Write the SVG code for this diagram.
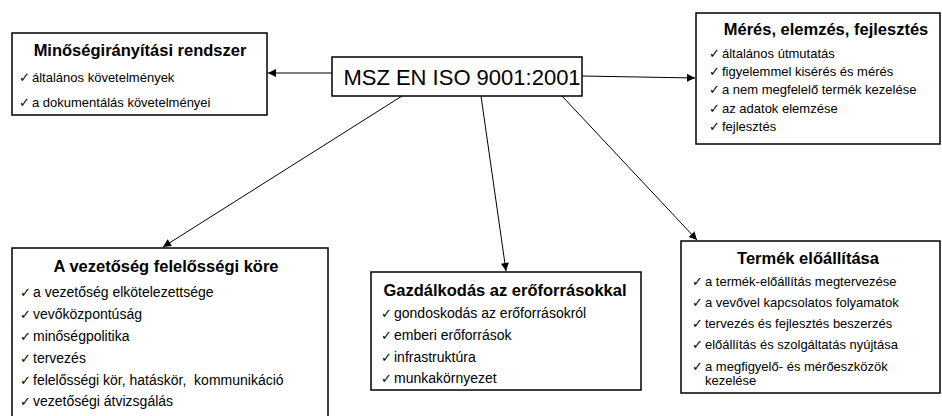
<svg xmlns="http://www.w3.org/2000/svg" width="942" height="416" viewBox="0 0 942 416">
  <style>
    .box { fill: #ffffff; stroke: #000000; stroke-width: 1.5; }
    .title { font-family: "Liberation Sans", Arial, sans-serif; font-size: 16.5px; font-weight: bold; text-anchor: middle; fill: #000; }
    .item { font-family: "Liberation Sans", Arial, sans-serif; font-size: 14px; fill: #000; }
    .sm { font-size: 13px; }
    .chk { font-family: "DejaVu Sans", sans-serif; font-size: 13px; fill: #000; }
    .main { font-family: "Liberation Sans", Arial, sans-serif; font-size: 22px; text-anchor: middle; fill: #000; }
    .conn { stroke: #000; stroke-width: 1; fill: none; marker-end: url(#arrow); }
  </style>
  <defs>
    <marker id="arrow" viewBox="0 0 10 10" refX="10" refY="5" markerWidth="9" markerHeight="8" markerUnits="userSpaceOnUse" orient="auto">
      <path d="M0,0 L10,5 L0,10 z" fill="#000"/>
    </marker>
  </defs>
  <rect width="942" height="416" fill="#ffffff"/>

  <g id="connectors">
    <line class="conn" x1="332" y1="73" x2="268" y2="73"/>
    <line class="conn" x1="582" y1="76" x2="695" y2="78"/>
    <line class="conn" x1="402" y1="96" x2="163" y2="247"/>
    <line class="conn" x1="481" y1="96" x2="506" y2="271"/>
    <line class="conn" x1="562" y1="96" x2="697" y2="240"/>
  </g>

  <g id="center">
    <rect class="box" x="332" y="57" width="250" height="39"/>
    <text class="main" x="462" y="85">MSZ EN ISO 9001:2001</text>
  </g>

  <g id="minosegiranyitasi">
    <rect class="box" x="12" y="33" width="255" height="82"/>
    <text class="title" x="140" y="56">Minőségirányítási rendszer</text>
    <g class="item sm">
      <text class="chk" x="19" y="82">✓</text><text x="32" y="82">általános követelmények</text>
      <text class="chk" x="19" y="107">✓</text><text x="32" y="107">a dokumentálás követelményei</text>
    </g>
  </g>

  <g id="meres">
    <rect class="box" x="696" y="13" width="244" height="131"/>
    <text class="title" x="826" y="35">Mérés, elemzés, fejlesztés</text>
    <g class="item sm">
      <text class="chk" x="709" y="58">✓</text><text x="722" y="58">általános útmutatás</text>
      <text class="chk" x="709" y="76">✓</text><text x="722" y="76">figyelemmel kisérés és mérés</text>
      <text class="chk" x="709" y="94">✓</text><text x="722" y="94">a nem megfelelő termék kezelése</text>
      <text class="chk" x="709" y="113">✓</text><text x="722" y="113">az adatok elemzése</text>
      <text class="chk" x="709" y="131">✓</text><text x="722" y="131">fejlesztés</text>
    </g>
  </g>

  <g id="vezetoseg">
    <rect class="box" x="12" y="248" width="316" height="172"/>
    <text class="title" x="166" y="272">A vezetőség felelősségi köre</text>
    <g class="item">
      <text class="chk" x="20" y="297">✓</text><text x="33" y="297">a vezetőség elkötelezettsége</text>
      <text class="chk" x="20" y="319">✓</text><text x="33" y="319">vevőközpontúság</text>
      <text class="chk" x="20" y="341">✓</text><text x="33" y="341">minőségpolitika</text>
      <text class="chk" x="20" y="363">✓</text><text x="33" y="363">tervezés</text>
      <text class="chk" x="20" y="385">✓</text><text x="33" y="385" xml:space="preserve">felelősségi kör, hatáskör,  kommunikáció</text>
      <text class="chk" x="20" y="406">✓</text><text x="33" y="406">vezetőségi átvizsgálás</text>
    </g>
  </g>

  <g id="gazdalkodas">
    <rect class="box" x="371" y="272" width="270" height="118"/>
    <text class="title" x="505" y="296">Gazdálkodás az erőforrásokkal</text>
    <g class="item">
      <text class="chk" x="381" y="318">✓</text><text x="394" y="318">gondoskodás az erőforrásokról</text>
      <text class="chk" x="381" y="340">✓</text><text x="394" y="340">emberi erőforrások</text>
      <text class="chk" x="381" y="362">✓</text><text x="394" y="362">infrastruktúra</text>
      <text class="chk" x="381" y="383">✓</text><text x="394" y="383">munkakörnyezet</text>
    </g>
  </g>

  <g id="termek">
    <rect class="box" x="681" y="241" width="259" height="152"/>
    <text class="title" x="808" y="264">Termék előállítása</text>
    <g class="item sm">
      <text class="chk" x="692" y="286">✓</text><text x="705" y="286">a termék-előállítás megtervezése</text>
      <text class="chk" x="692" y="307">✓</text><text x="705" y="307">a vevővel kapcsolatos folyamatok</text>
      <text class="chk" x="692" y="328">✓</text><text x="705" y="328">tervezés és fejlesztés beszerzés</text>
      <text class="chk" x="692" y="349">✓</text><text x="705" y="349">előállítás és szolgáltatás nyújtása</text>
      <text class="chk" x="692" y="371">✓</text><text x="705" y="371">a megfigyelő- és mérőeszközök</text>
      <text x="705" y="385">kezelése</text>
    </g>
  </g>
</svg>
